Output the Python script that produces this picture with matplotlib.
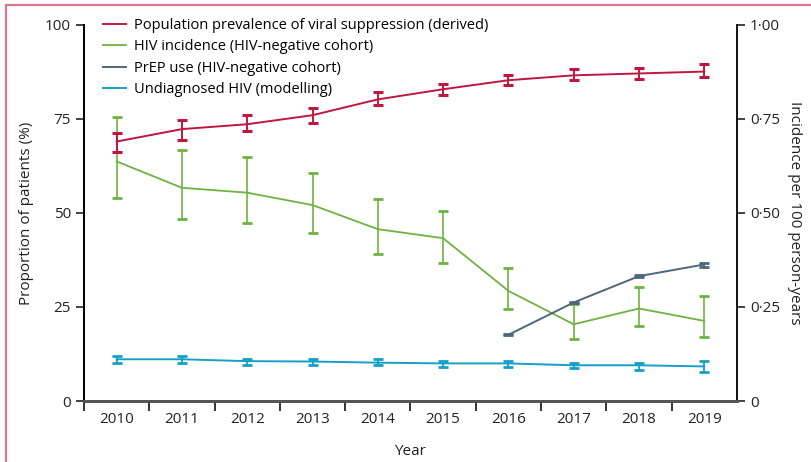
import matplotlib.pyplot as plt
from matplotlib.patches import Rectangle
import numpy as np

plt.rcParams["font.family"] = ["Open Sans", "DejaVu Sans"]

years = ["2010", "2011", "2012", "2013", "2014", "2015", "2016", "2017", "2018", "2019"]

# population prevalence of viral suppression (%), with CI
vs = [69.0, 72.3, 73.6, 76.0, 80.2, 82.9, 85.3, 86.6, 87.1, 87.6]
vs_hi = [71.2, 74.7, 76.0, 77.9, 82.2, 84.2, 86.6, 88.2, 88.6, 89.6]
vs_lo = [66.1, 69.4, 71.7, 73.8, 78.6, 81.3, 84.1, 85.3, 85.5, 86.2]

# HIV incidence per 100 person-years (right axis)
inc = [0.637, 0.567, 0.554, 0.521, 0.457, 0.433, 0.293, 0.204, 0.246, 0.213]
inc_hi = [0.755, 0.667, 0.649, 0.606, 0.536, 0.504, 0.355, 0.257, 0.304, 0.279]
inc_lo = [0.539, 0.483, 0.473, 0.446, 0.390, 0.366, 0.244, 0.164, 0.199, 0.169]

# PrEP use (%), 2016-2019
prep = [17.6, 26.2, 33.2, 36.3]
prep_hi = [17.7, 26.4, 33.5, 36.8]
prep_lo = [17.5, 26.0, 32.9, 35.7]

# undiagnosed HIV (%)
und = [11.1, 11.1, 10.6, 10.5, 10.2, 10.0, 10.0, 9.5, 9.5, 9.2]
und_hi = [12.0, 12.0, 11.3, 11.1, 11.1, 10.7, 10.6, 10.0, 10.0, 10.6]
und_lo = [10.0, 10.0, 9.5, 9.5, 9.5, 9.0, 9.0, 8.7, 8.2, 7.7]

red = "#c0163f"
green = "#6db33f"
slate = "#4d6878"
cyan = "#14a0c6"

fig = plt.figure(figsize=(8.11, 4.62), dpi=100)
ax = fig.add_axes([0.1036, 0.132, 0.805, 0.814])
ax2 = ax.twinx()

x = np.arange(len(years))
xp = x[6:]

def err(v, lo, hi):
    v = np.array(v); return [v - np.array(lo), np.array(hi) - v]

ax.errorbar(x, und, yerr=err(und, und_lo, und_hi), color=cyan, lw=1.4,
            capsize=3.5, capthick=2, elinewidth=1.3, label="Undiagnosed HIV (modelling)")
ax.errorbar(xp, prep, yerr=err(prep, prep_lo, prep_hi), color=slate, lw=1.4,
            capsize=3.5, capthick=2, elinewidth=1.3, label="PrEP use (HIV-negative cohort)")
ax2.errorbar(x, inc, yerr=err(inc, inc_lo, inc_hi), color=green, lw=1.3,
             capsize=3.5, capthick=2, elinewidth=1.2, label="HIV incidence (HIV-negative cohort)")
ax.errorbar(x, vs, yerr=err(vs, vs_lo, vs_hi), color=red, lw=1.4,
            capsize=3.5, capthick=2.2, elinewidth=1.4,
            label="Population prevalence of viral suppression (derived)")

ax.set_zorder(ax2.get_zorder() + 1)
ax.patch.set_visible(False)

ax.set_xlim(-0.5, 9.5)
ax.set_ylim(0, 100)
ax2.set_ylim(0, 1)
ax.set_yticks([0, 25, 50, 75, 100])
ax2.set_yticks([0, 0.25, 0.5, 0.75, 1.0])
ax2.set_yticklabels(["0", "0\u00b725", "0\u00b750", "0\u00b775", "1\u00b700"])
ax.set_xticks(np.arange(-0.5, 9.0, 1.0))
ax.set_xticklabels([])
ax.set_xticks(x, minor=True)
ax.set_xticklabels(years, minor=True)
ax.tick_params(axis="x", which="minor", length=0, pad=8, labelsize=11, colors="#222222")
ax.tick_params(axis="x", which="major", length=7, width=1.4, color="#333333", direction="out")
ax.tick_params(axis="y", length=6, width=1.2, labelsize=11, colors="#222222")
ax2.tick_params(axis="y", length=6, width=1.2, labelsize=11, colors="#222222")

for a in (ax, ax2):
    a.spines["top"].set_visible(False)
    a.spines["left"].set_linewidth(1.3)
    a.spines["right"].set_linewidth(1.3)
    a.spines["bottom"].set_linewidth(2)
    a.spines["bottom"].set_color("#555555")
ax.spines["right"].set_visible(False)

ax.set_xlabel("Year", fontsize=11, color="#222222", labelpad=12)
ax.set_ylabel("Proportion of patients (%)", fontsize=11, color="#222222", labelpad=8)
ax2.set_ylabel("Incidence per 100 person-years", fontsize=11, color="#222222",
               rotation=270, labelpad=16)

h1, l1 = ax.get_legend_handles_labels()
h2, l2 = ax2.get_legend_handles_labels()
handles = [h1[2], h2[0], h1[1], h1[0]]
labels = [l1[2], l2[0], l1[1], l1[0]]
handles = [h[0] for h in handles]
ax.legend(handles, labels, loc="upper left", bbox_to_anchor=(0.02, 1.035), frameon=False,
          fontsize=10.5, handlelength=1.6, handletextpad=0.5, labelspacing=0.45,
          borderaxespad=0)

fig.patches.append(Rectangle((5.5 / 811, -0.1), 1.2, 1.1 - 5.5 / 462, transform=fig.transFigure,
                             fill=False, edgecolor="#d9788f", lw=1.6))

fig.savefig("out.png", dpi=100)
